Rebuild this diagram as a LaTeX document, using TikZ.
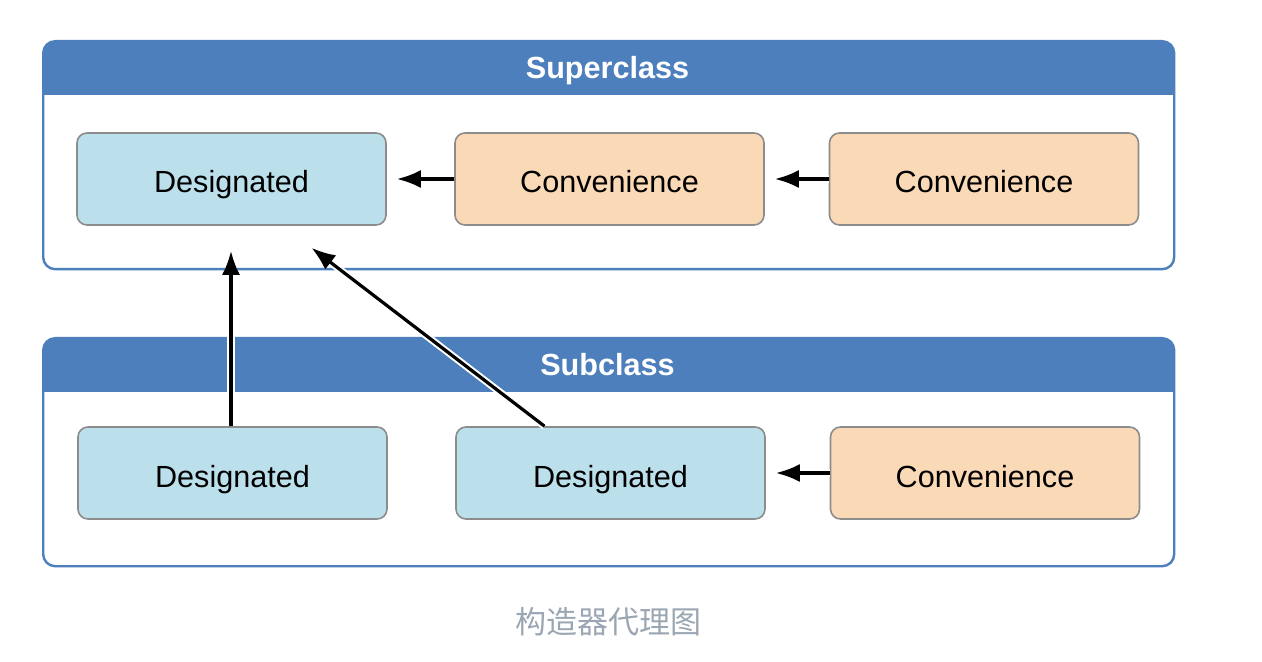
\documentclass[tikz,border=0pt]{standalone}
\usepackage{fontspec}
\setmainfont{Liberation Sans}
\newfontfamily\cjkfont{Noto Sans CJK SC}
\usetikzlibrary{arrows.meta}
\definecolor{hdrblue}{HTML}{4D7FBC}
\definecolor{desfill}{HTML}{BCE0EB}
\definecolor{convfill}{HTML}{FAD9B7}
\definecolor{boxline}{HTML}{8C8C8C}
\definecolor{captiongray}{HTML}{9BA6B3}
\tikzset{
    classframe/.style={draw=hdrblue,line width=1.2pt,fill=white,rounded corners=6pt,
        minimum width=565.5pt,minimum height=114pt,anchor=north west,inner sep=0pt,
        path picture={\fill[hdrblue,sharp corners] (path picture bounding box.north west)
            rectangle ([yshift=-27pt]path picture bounding box.north east);}},
    hdrtext/.style={text=white,font=\fontsize{15.3pt}{18pt}\selectfont\bfseries,
        text height=12pt,text depth=0pt},
    initbox/.style={draw=boxline,line width=0.8pt,rounded corners=5pt,
        minimum width=154.5pt,minimum height=46pt,font=\fontsize{15.3pt}{18pt}\selectfont,
        text height=14pt,text depth=0pt},
    des/.style={initbox,fill=desfill},
    conv/.style={initbox,fill=convfill},
    arr/.style={-{Latex[length=12pt,width=9pt]},line width=1.6pt,
        preaction={draw=white,line width=3.6pt,-{Latex[length=12pt,width=9pt]}}},
}

\begin{document}
\begin{tikzpicture}[x=0.5pt,y=-0.5pt]
        \useasboundingbox (0,0) rectangle (1262,662);
        % superclass
        \node[classframe] (superframe) at (42,40) {};
        \node[hdrtext] (superlbl) at (607.5,67) {Superclass};
        \node[des] (supdes) at (231.5,179) {Designated};
        \node[conv] (supconva) at (609.5,179) {Convenience};
        \node[conv] (supconvb) at (984,179) {Convenience};
        % subclass
        \node[classframe] (subframe) at (42,337) {};
        \node[hdrtext] (sublbl) at (607.5,363) {Subclass};
        \node[des] (subdesa) at (232.5,473) {Designated};
        \node[des] (subdesb) at (610.5,473) {Designated};
        \node[conv] (subconv) at (985,473) {Convenience};

        \draw[arr,shorten >=5pt] (supconva.west) -- (supdes.east);
        \draw[arr,shorten >=5pt] (supconvb.west) -- (supconva.east);
        \draw[arr,shorten >=5pt] (subconv.west) -- (subdesb.east);
        \draw[arr,shorten >=12.5pt] ([xshift=-0.75pt]subdesa.north)
        -- ([xshift=-0.75pt]subdesa.north |- supdes.south);
        \draw[arr] ([xshift=-33pt]subdesb.north)
        -- ([xshift=40pt,yshift=-11pt]supdes.south);

        \node[text=captiongray,font=\cjkfont\fontsize{15.5pt}{18pt}\selectfont] (caption) at (608,622) {构造器代理图};
    \end{tikzpicture}
\end{document}
